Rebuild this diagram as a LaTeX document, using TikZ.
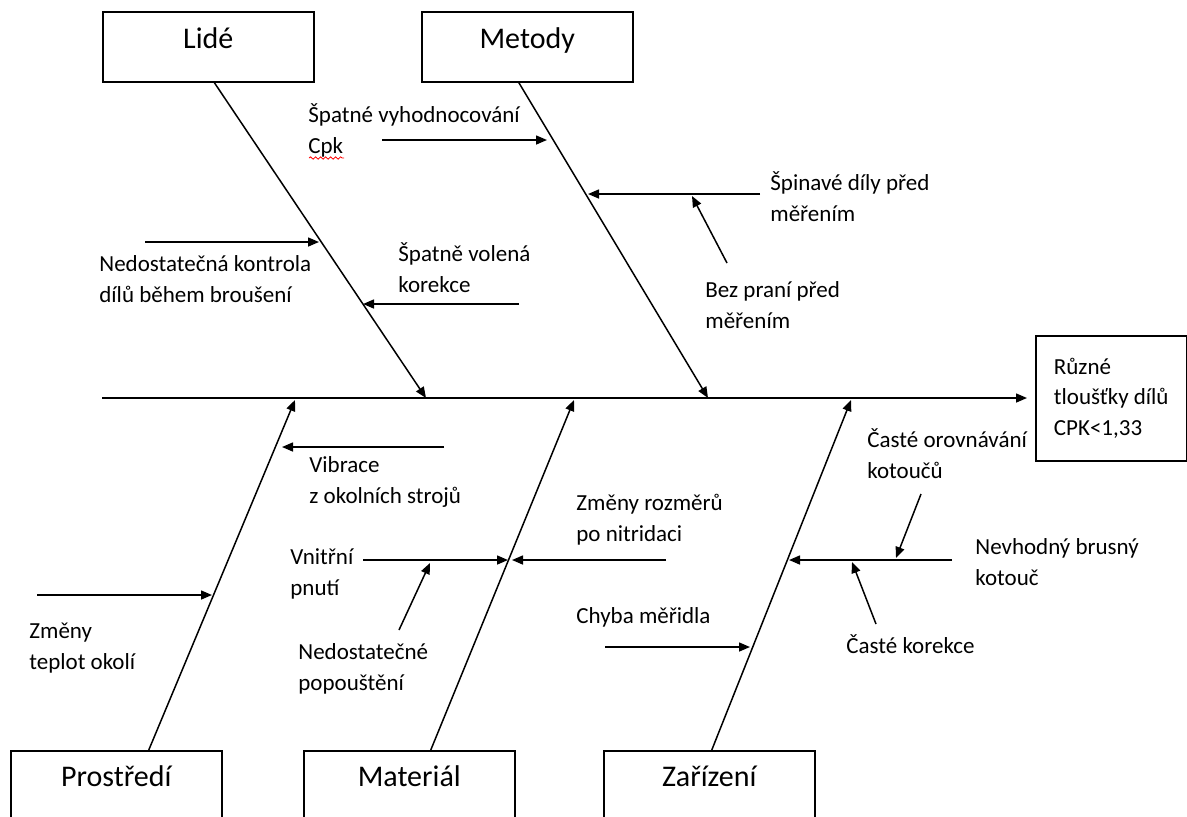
\documentclass[tikz,border=0pt]{standalone}
\usepackage{fontspec}
\setmainfont{Carlito}
\usetikzlibrary{arrows.meta,calc,decorations.pathmorphing}

\tikzset{
  catbox/.style={draw, line width=0.75pt, anchor=north west, inner sep=0pt,
    minimum width=105.5pt, text height=18.5pt, text depth=16.5pt,
    font=\fontsize{15}{18}\selectfont},
  cause/.style={anchor=base west, align=left, inner sep=0pt,
    font=\fontsize{11.5}{15.3}\selectfont},
  bone/.style={line width=0.75pt},
  sub/.style={line width=0.75pt, ->},
}

\begin{document}
\begin{tikzpicture}[x=0.5pt,y=-0.5pt,>={Triangle[length=5.5pt,width=4.5pt]}]
\useasboundingbox (0,0) rectangle (1187,816);
\clip (0,0) rectangle (1187,816);

% categories
\node[catbox] (lide) at (102,11) {Lidé};
\node[catbox] (metody) at (421,11) {Metody};
\node[catbox, text height=18pt, text depth=17pt] (prostredi) at (10,750) {Prostředí};
\node[catbox, text height=18pt, text depth=17pt] (material) at (303,750) {Materiál};
\node[catbox, text height=18pt, text depth=17pt] (zarizeni) at (603,750) {Zařízení};
\node[draw, line width=0.75pt, anchor=north west, minimum width=75.5pt, minimum height=62.5pt,
      align=left, font=\fontsize{11.5}{15.3}\selectfont] (result) at (1035,335)
      {Různé\\tloušťky dílů\\CPK<1,33};

% spine and bones
\coordinate (tail) at (102,398);
\coordinate (lideTip) at (426,398);
\coordinate (metodyTip) at (708,398);
\coordinate (prostrediTip) at (295,400);
\coordinate (materialTip) at (574,400);
\coordinate (zarizeniTip) at (851,400);
\draw[bone,->] (tail) -- ($(result.west |- tail)+(-8,0)$);
\draw[bone,->] ($(lide.south)+(6,0)$) -- (lideTip);
\draw[bone,->] ($(metody.south)+(-8.5,0)$) -- (metodyTip);
\draw[bone,->] ($(prostredi.north)+(32.5,0)$) -- (prostrediTip);
\draw[bone,->] ($(material.north)+(21.5,0)$) -- (materialTip);
\draw[bone,->] ($(zarizeni.north)+(2.5,0)$) -- (zarizeniTip);

% causes (placed at the baseline of the last line)
\node[cause] (vyhodnoc) at (308,153) {Špatné vyhodnocování\\Cpk};
\node[cause] (spinave) at (770,221) {Špinavé díly před\\měřením};
\node[cause] (prani) at (705,328) {Bez praní před\\měřením};
\node[cause] (kontrola) at (99,302) {Nedostatečná kontrola\\dílů během broušení};
\node[cause] (volena) at (398,292) {Špatně volená\\korekce};
\node[cause] (vibrace) at (309,503) {Vibrace\\z okolních strojů};
\node[cause] (teploty) at (29,669) {Změny\\teplot okolí};
\node[cause] (pnuti) at (290,595) {Vnitřní\\pnutí};
\node[cause] (popousteni) at (298,690) {Nedostatečné\\popouštění};
\node[cause] (nitridace) at (576,541) {Změny rozměrů\\po nitridaci};
\node[cause] (meridlo) at (576,623) {Chyba měřidla};
\node[cause] (orovnavani) at (867,478) {Časté orovnávání\\kotoučů};
\node[cause] (kotouc) at (975,585) {Nevhodný brusný\\kotouč};
\node[cause] (korekce) at (846,653) {Časté korekce};
\draw[red, line width=0.4pt, decorate, decoration={snake, amplitude=0.6pt, segment length=2.5pt}]
  ($(vyhodnoc.base west)+(1,5)$) -- ++(35,0);

% cause arrows
\coordinate (vyhodnocA) at (382,140);   \coordinate (vyhodnocB) at (547,140);
\coordinate (spinaveA) at (760,194);    \coordinate (spinaveB) at (588,194);
\coordinate (praniA) at (727,263);      \coordinate (praniB) at (692,196);
\coordinate (kontrolaA) at (145,242);   \coordinate (kontrolaB) at (319,242);
\coordinate (volenaA) at (519,304);     \coordinate (volenaB) at (363,304);
\coordinate (vibraceA) at (444,447);    \coordinate (vibraceB) at (282,447);
\coordinate (teplotyA) at (37,595);     \coordinate (teplotyB) at (212,595);
\coordinate (pnutiA) at (363,560);      \coordinate (pnutiB) at (508,560);
\coordinate (popousteniA) at (399,630); \coordinate (popousteniB) at (430,563);
\coordinate (nitridaceA) at (666,560);  \coordinate (nitridaceB) at (512,560);
\coordinate (meridloA) at (605,647);    \coordinate (meridloB) at (750,647);
\coordinate (orovnavaniA) at (921,494); \coordinate (orovnavaniB) at (896,558);
\coordinate (kotoucA) at (952,560);     \coordinate (kotoucB) at (789,560);
\coordinate (korekceA) at (876,624);    \coordinate (korekceB) at (852,562);
\foreach \c in {vyhodnoc,spinave,prani,kontrola,volena,vibrace,teploty,pnuti,
                popousteni,nitridace,meridlo,orovnavani,kotouc,korekce}
  \draw[sub] (\c A) -- (\c B);
\end{tikzpicture}
\end{document}
